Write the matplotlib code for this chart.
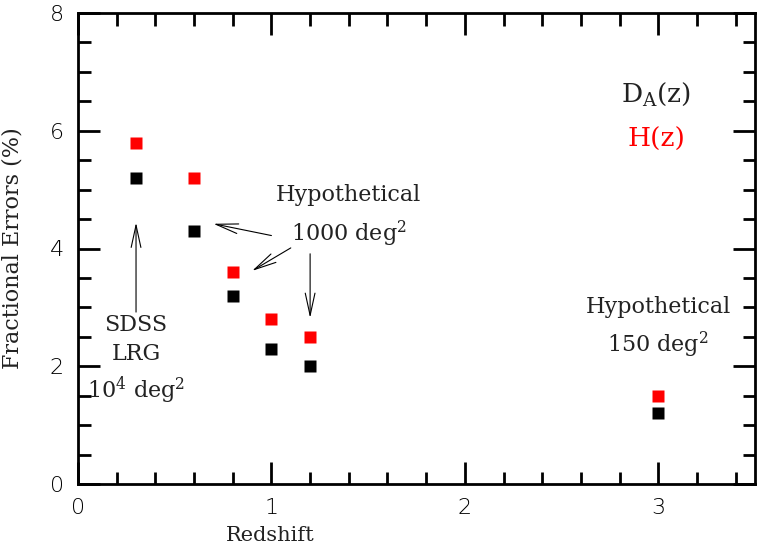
import matplotlib
matplotlib.use("Agg")
import matplotlib.pyplot as plt
from matplotlib.ticker import MultipleLocator

redshift = [0.3, 0.6, 0.8, 1.0, 1.2, 3.0]
err_DA = [5.2, 4.3, 3.2, 2.3, 2.0, 1.2]
err_H = [5.8, 5.2, 3.6, 2.8, 2.5, 1.5]

plt.rcParams['font.family'] = ['DejaVu Serif']
plt.rcParams['mathtext.default'] = 'regular'

fig = plt.figure(figsize=(7.57, 5.48), dpi=100)
ax = fig.add_axes([78/757, 1-484/548, (755-78)/757, (484-13)/548])

ax.plot(redshift, err_H, 's', color='#ff0000', ms=8, mec='none', zorder=3)
ax.plot(redshift, err_DA, 's', color='black', ms=8, mec='none', zorder=3)

ax.set_xlim(0, 3.5)
ax.set_ylim(0, 8)
ax.xaxis.set_major_locator(MultipleLocator(1))
ax.xaxis.set_minor_locator(MultipleLocator(0.2))
ax.yaxis.set_major_locator(MultipleLocator(2))
ax.yaxis.set_minor_locator(MultipleLocator(0.5))
ax.tick_params(which='both', direction='in', top=True, right=True, width=2)
ax.tick_params(which='major', length=16, labelsize=16, pad=10)
ax.tick_params(which='minor', length=9)
for lab in ax.get_xticklabels() + ax.get_yticklabels():
    lab.set_family('DejaVu Sans')
    lab.set_fontweight('light')
for s in ax.spines.values():
    s.set_linewidth(2)

tc = '#222222'
ax.set_xlabel('Redshift', fontsize=15, color=tc)
ax.xaxis.set_label_coords((270-78)/677, -0.09)
ax.set_ylabel('Fractional Errors (%)', fontsize=16, color=tc)
ax.yaxis.set_label_coords(-0.08, 0.5)

fs = 16
ax.text(0.3, 2.11, 'SDSS\nLRG\n10$^4$ deg$^2$', ha='center', va='center', fontsize=fs, linespacing=1.4, color=tc)
ax.text(1.4, 4.54, 'Hypothetical\n1000 deg$^2$', ha='center', va='center', fontsize=fs, linespacing=1.55, color=tc)
ax.text(3.0, 2.65, 'Hypothetical\n150 deg$^2$', ha='center', va='center', fontsize=fs, linespacing=1.55, color=tc)
ax.text(2.99, 6.62, 'D$_A$(z)', ha='center', va='center', fontsize=19, color=tc)
ax.text(2.99, 5.85, 'H(z)', ha='center', va='center', fontsize=19, color='#ff0000')

ap = dict(arrowstyle='->,head_length=1.6,head_width=0.35', color='black', lw=0.8, shrinkA=0, shrinkB=0)
ax.annotate('', xy=(0.3, 4.44), xytext=(0.3, 2.92), arrowprops=ap)
ax.annotate('', xy=(0.70, 4.42), xytext=(1.0, 4.22), arrowprops=ap)
ax.annotate('', xy=(0.90, 3.62), xytext=(1.10, 4.01), arrowprops=ap)
ax.annotate('', xy=(1.20, 2.82), xytext=(1.20, 3.91), arrowprops=ap)

fig.savefig('out.png', dpi=100)
